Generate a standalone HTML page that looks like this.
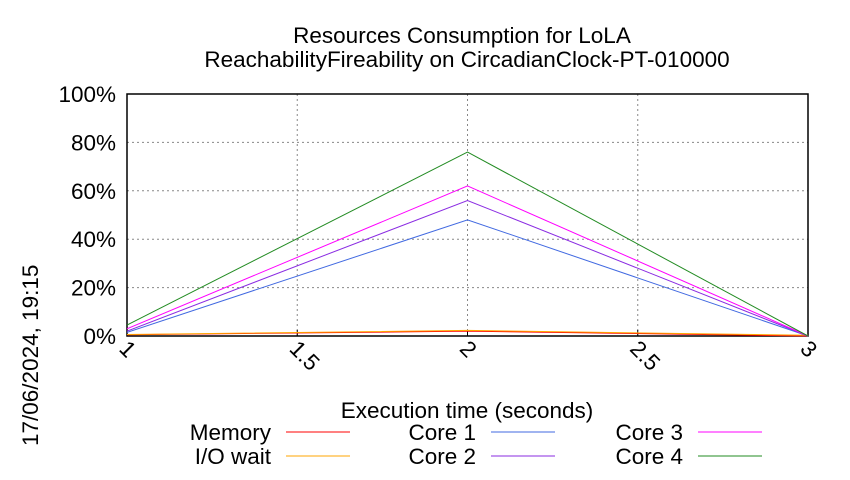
<!DOCTYPE html>
<html><head><meta charset="utf-8"><style>body{margin:0;background:#fff}svg{font-family:"Liberation Sans",sans-serif}</style></head>
<body>
<svg id="c" width="850" height="475">
<rect width="850" height="475" fill="#fff"/>
<text x="462" y="43" text-anchor="middle" font-size="22.5">Resources Consumption for LoLA</text>
<text x="467" y="67" text-anchor="middle" font-size="22.5">ReachabilityFireability on CircadianClock-PT-010000</text>
<text transform="translate(38,446) rotate(-90)" font-size="22.5">17/06/2024, 19:15</text>
<text x="467" y="418" text-anchor="middle" font-size="22.5">Execution time (seconds)</text>
<g id="grid"></g><g id="series"></g><g id="legend"></g>
</svg>
<script>
const xs=[1,2,3];
const xTicks=[1,1.5,2,2.5,3];
const xTickLabels=["1","1.5","2","2.5","3"];
const yTicks=[0,20,40,60,80,100];
const seriesNames=["Memory","I/O wait","Core 1","Core 2","Core 3","Core 4"];
const seriesColors=["#ff0000","#ffa500","#4169e1","#8a2be2","#ff00ff","#228b22"];
const memory=[0.5,2,0];
const ioWait=[0.6,2.3,0.3];
const core1=[1.5,48,0];
const core2=[2,56,0];
const core3=[3,62,0];
const core4=[4.5,76,0];
const allSeries=[memory,ioWait,core1,core2,core3,core4];
const X0=127,X1=808,Y0=336,Y1=94;
const sx=v=>X0+(v-1)/2*(X1-X0);
const sy=v=>Y0-v/100*(Y0-Y1);
const NS="http://www.w3.org/2000/svg";
function mk(t,a,p){const e=document.createElementNS(NS,t);for(const k in a)e.setAttribute(k,a[k]);p.appendChild(e);return e;}
const g=document.getElementById('grid');
yTicks.forEach(v=>{
 if(v>0&&v<100){const l=mk('line',{x1:X0,x2:X1,y1:sy(v),y2:sy(v),stroke:'#888','stroke-dasharray':'2,3','stroke-width':1},g);
 
 }
 const t=mk('text',{x:X0-11,y:sy(v)+8,'text-anchor':'end','font-size':22.5},g);t.textContent=v+'%';
 
 
});
xTicks.forEach((v,i)=>{
 if(v>1&&v<3){const l=mk('line',{x1:sx(v),x2:sx(v),y1:Y1,y2:Y0,stroke:'#888','stroke-dasharray':'2,3','stroke-width':1},g);
 
 }
 mk('line',{x1:sx(v),x2:sx(v),y1:Y0,y2:Y0-6,stroke:'#000'},g);
 const t=mk('text',{transform:`translate(${sx(v)-9},${Y0+14}) rotate(45)`,'font-size':22.5},g);t.textContent=xTickLabels[i];
 
 
});
const f=mk('rect',{x:X0,y:Y1,width:X1-X0,height:Y0-Y1,fill:'none',stroke:'#000','stroke-width':1.5},g);


const s=document.getElementById('series');
allSeries.forEach((d,i)=>{
 const p=mk('polyline',{points:d.map((v,j)=>sx(xs[j])+','+sy(v)).join(' '),fill:'none',stroke:seriesColors[i],'stroke-width':1},s);
 
 
});
const lg=document.getElementById('legend');
const lpos=[[271,432],[271,456],[476,432],[476,456],[683,432],[683,456]];
seriesNames.forEach((n,i)=>{
 const [x,y]=lpos[i];
 const t=mk('text',{x:x,y:y+8,'text-anchor':'end','font-size':22.5},lg);t.textContent=n;
 
 
 const l=mk('line',{x1:x+15,x2:x+79,y1:y,y2:y,stroke:seriesColors[i],'stroke-width':1},lg);
 
 
});
</script>
</body></html>
